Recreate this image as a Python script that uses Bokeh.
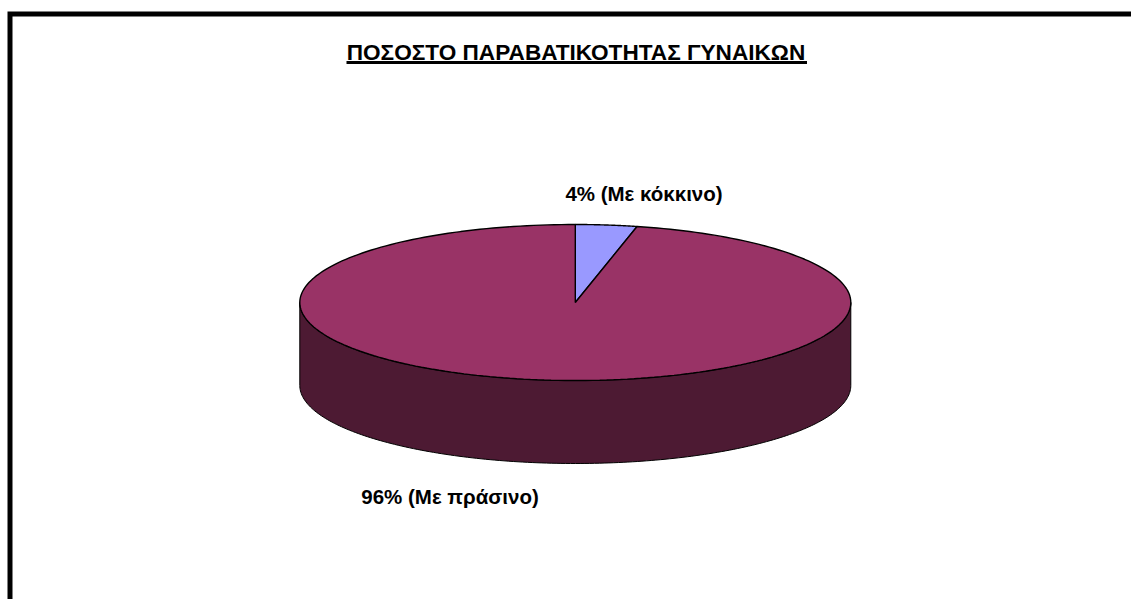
import numpy as np
from bokeh.plotting import figure
from bokeh.core.properties import value
from bokeh.embed import file_html
from bokeh.resources import INLINE

title_text = "ΠΟΣΟΣΤΟ ΠΑΡΑΒΑΤΙΚΟΤΗΤΑΣ ΓΥΝΑΙΚΩΝ"
slice_names = ["Με κόκκινο", "Με πράσινο"]
slice_values = [3.6, 96.4]
slice_labels = ["4% (Με κόκκινο)", "96% (Με πράσινο)"]
top_colors = ["#9999FF", "#993366"]
side_color = "#4D1A33"

W, H = 1131, 599
X0, Y0 = 0, 0
p = figure(width=W, height=H, x_range=(X0, X0 + W), y_range=(Y0 + H, Y0),
           output_backend="svg", toolbar_location=None, min_border=0,
           outline_line_color=None, background_fill_color="white")
p.axis.visible = False
p.grid.visible = False

# frame
p.line([9.5, 9.5, 1140], [700, 13.5, 13.5], line_color="black", line_width=5, line_join="miter")

cx, cy, rx, ry, depth = 574.8, 302, 275.5, 78, 83

# side wall (front half of the cylinder)
t = np.radians(np.linspace(90, 270, 181))
xs = cx + rx * np.sin(t)
ys = cy - ry * np.cos(t)
p.patch(np.r_[xs, xs[::-1]], np.r_[ys, ys[::-1] + depth], fill_color=side_color,
        line_color="black", line_width=1)

# top face, slices from the values
frac = np.array(slice_values) / sum(slice_values)
edges = np.r_[0, np.cumsum(frac)] * 2 * np.pi
for a0, a1, c in zip(edges[:-1], edges[1:], top_colors):
    a = np.linspace(a0, a1, 241)
    p.patch(np.r_[cx, cx + rx * np.sin(a)], np.r_[cy, cy - ry * np.cos(a)],
            fill_color=c, line_color="black", line_width=1.4)

def label(x, y, s, size):
    p.text([x], [y], text=[s], text_font=value("Liberation Sans"), text_font_style="bold",
           text_font_size=size, text_align="center", text_baseline="middle", text_color="black")

label(575.5, 52, title_text, "22.6px")
p.line([346, 806.5], [62, 62], line_color="black", line_width=3)
label(643.5, 193, slice_labels[0], "20.5px")
label(449.5, 496, slice_labels[1], "20.5px")

open("out.html", "w").write(file_html(p, INLINE))
